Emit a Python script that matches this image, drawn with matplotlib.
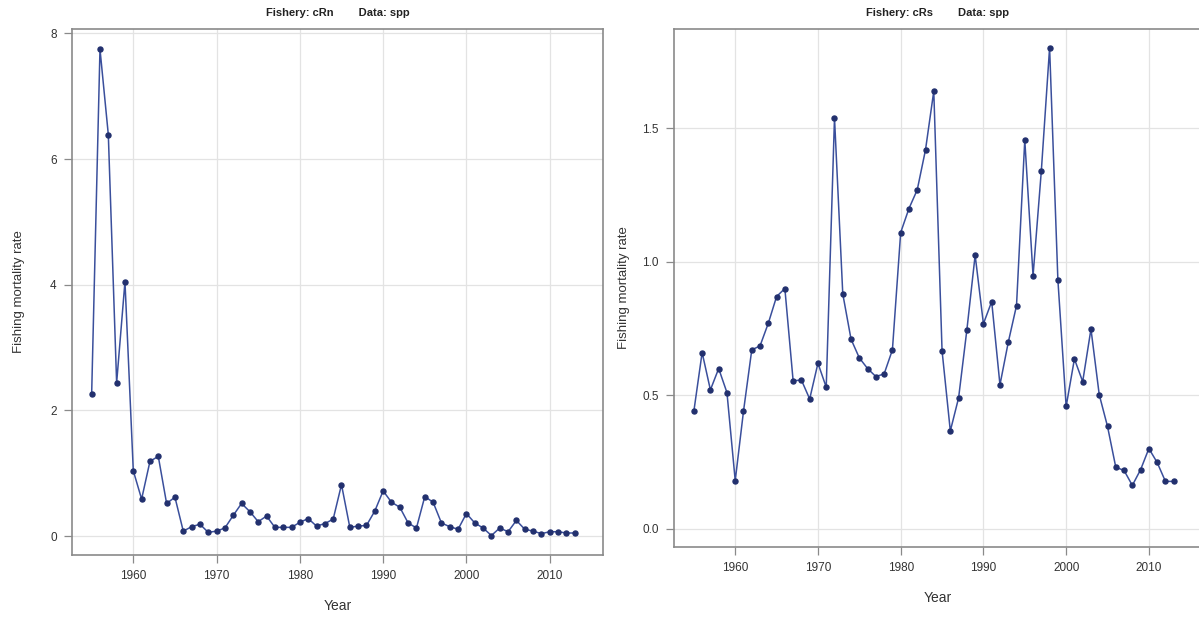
# Fishing mortality rate by year, two fisheries (cRn, cRs), data: spp

import numpy as np
import matplotlib.pyplot as plt

plt.rcParams['font.family'] = ['Liberation Sans', 'DejaVu Sans']

# --- Data ---
years = np.arange(1955, 2014)

f_cRn = [2.26, 7.75, 6.39, 2.44, 4.05, 1.04, 0.59, 1.19, 1.27, 0.52,
         0.62, 0.08, 0.15, 0.19, 0.06, 0.08, 0.13, 0.33, 0.52, 0.39,
         0.23, 0.32, 0.14, 0.14, 0.14, 0.22, 0.28, 0.16, 0.20, 0.27,
         0.82, 0.14, 0.16, 0.17, 0.40, 0.72, 0.54, 0.46, 0.21, 0.13,
         0.63, 0.54, 0.21, 0.15, 0.11, 0.36, 0.21, 0.13, 0.01, 0.13,
         0.07, 0.25, 0.11, 0.08, 0.04, 0.07, 0.07, 0.05, 0.05]

f_cRs = [0.44, 0.66, 0.52, 0.60, 0.51, 0.18, 0.44, 0.67, 0.685, 0.77,
         0.87, 0.90, 0.554, 0.557, 0.486, 0.62, 0.53, 1.54, 0.88, 0.71,
         0.64, 0.60, 0.57, 0.58, 0.67, 1.11, 1.20, 1.27, 1.42, 1.64,
         0.667, 0.366, 0.49, 0.745, 1.025, 0.768, 0.851, 0.539, 0.698, 0.836,
         1.457, 0.948, 1.341, 1.803, 0.933, 0.458, 0.636, 0.551, 0.748, 0.502,
         0.383, 0.230, 0.218, 0.162, 0.221, 0.30, 0.248, 0.177, 0.177]

panels = [
    ("Fishery: cRn", f_cRn, [0, 2, 4, 6, 8], ["0", "2", "4", "6", "8"], (-0.30, 8.07)),
    ("Fishery: cRs", f_cRs, [0, 0.5, 1.0, 1.5], ["0.0", "0.5", "1.0", "1.5"], (-0.069, 1.873)),
]
xticks = [1960, 1970, 1980, 1990, 2000, 2010]

# --- Styling ---
line_col   = "#3a4f9c"
marker_col = "#22306e"
box_col    = "#8a8a8a"
text_col   = "#333333"

W, H = 1199, 619
fig = plt.figure(figsize=(W / 100, H / 100), dpi=100)

# axes boxes in pixel coords (left, top, right, bottom)
boxes = [(72, 29, 603, 555), (674, 29, 1201, 547)]
xlims = [(1952.64, 2016.4), (1952.6, 2016.3)]
ylabelpads = [18, 9]

for (title, vals, yt, ytl, ylim), (l, t, r, b), xl, lp in zip(panels, boxes, xlims, ylabelpads):
    ax = fig.add_axes([l / W, 1 - b / H, (r - l) / W, (b - t) / H])
    ax.plot(years, vals, color=line_col, linewidth=1.1, zorder=3)
    ax.plot(years, vals, linestyle="none", marker="o", markersize=3.6,
            color=marker_col, zorder=4)

    ax.set_xlim(*xl)
    ax.set_ylim(*ylim)
    ax.set_xticks(xticks)
    ax.set_xticklabels([str(x) for x in xticks])
    ax.set_yticks(yt)
    ax.set_yticklabels(ytl)

    ax.grid(True, color="#e3e3e3", linewidth=0.9, zorder=0)
    for s in ax.spines.values():
        s.set_color(box_col)
        s.set_linewidth(1.2)
    ax.tick_params(colors=box_col, labelcolor=text_col, labelsize=8.5,
                   length=6, width=0.9, pad=5)

    ax.set_title(title + "        Data: spp", fontsize=8, fontweight="bold",
                 color="#222222", pad=9)
    ax.set_xlabel("Year", fontsize=10, color=text_col, labelpad=12)
    ax.set_ylabel("Fishing mortality rate", fontsize=9.5, color=text_col, labelpad=lp)

plt.savefig("out.png", dpi=100)
